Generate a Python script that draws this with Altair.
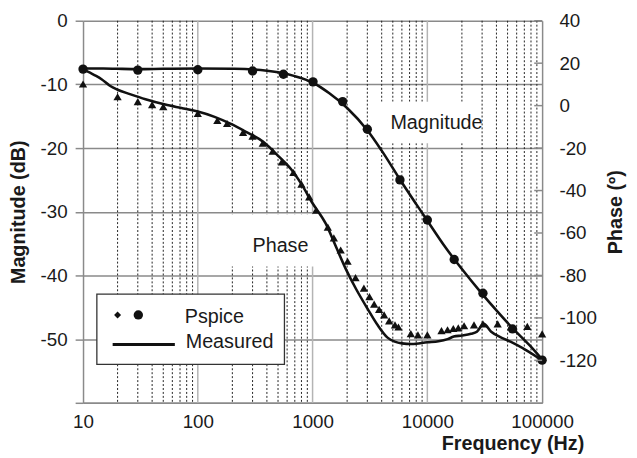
import altair as alt
import pandas as pd

# ---------------- data ----------------
mag_meas_f = [10, 15, 20, 30, 50, 100, 200, 300, 500, 700, 1000, 1400, 2000, 3000, 4000,
              6000, 8000, 10000, 14000, 20000, 30000, 40000, 56000, 78000, 100000]
mag_meas_db = [-7.5, -7.5, -7.55, -7.6, -7.55, -7.5, -7.55, -7.65, -8.1, -8.7, -9.7, -11.4,
               -13.7, -17.2, -20.4, -25.4, -28.8, -31.4, -35.3, -39.0, -42.9, -45.5, -48.4,
               -51.0, -53.2]

mag_ps_f = [10, 30, 100, 300, 557, 1009, 1828, 3000, 5770, 10000, 17140, 30500, 55200, 100000]
mag_ps_db = [-7.6, -7.75, -7.7, -7.9, -8.4, -9.6, -12.7, -17.05, -25.0, -31.3, -37.5, -42.8,
             -48.4, -53.3]

ph_meas_f = [10, 11, 12, 13, 14.6, 17, 20, 26, 35, 52, 75, 100, 140, 190, 260, 376, 515, 650,
             800, 1000, 1300, 1600, 1950, 2400, 3000, 3700, 4500, 5200, 6000, 7300, 10000,
             12500, 15000, 17000, 20000, 24000, 27000, 31000, 36000, 45000, 53000, 73000, 100000]
ph_meas = [17, 16, 15, 14, 12.3, 9.5, 7.5, 5.3, 3, 0.5, -1.3, -2.8, -5.3, -8.4, -12.2, -17.2,
           -24.3, -30, -37, -46, -55.5, -66.5, -77, -86.5, -95.5, -103.5, -109.3, -111.2, -112,
           -112.3, -111.5, -111, -110, -108.8, -108.3, -107.5, -106.5, -102.8, -106.5, -109.5,
           -111.2, -115.3, -120]

ph_ps_f = [10, 20, 30, 40, 50, 100, 148, 180, 248, 300, 368, 449, 540, 680, 800, 935, 1073,
           1358, 1532, 1757, 2018, 2366, 2800, 3130, 3440, 3800, 4200, 4650, 5224, 5600, 7180,
           8280, 10000, 13280, 15000, 16830, 18600, 20900, 25500, 30500, 41000, 74300, 100000]
ph_ps = [10.2, 4.2, 1.9, 0.5, -0.5, -3.7, -7, -8.4, -12.6, -14.4, -17.7, -21.4, -26.5, -31.5,
         -37, -43, -49.3, -57.2, -62.3, -68, -73.3, -81, -86, -90, -93.5, -96, -98.6, -101.4,
         -103.3, -104.3, -107.4, -108, -108, -106, -105.6, -105, -104.7, -103.7, -103.3, -102.8,
         -102.8, -104, -107.5]

x_ticks = [10, 100, 1000, 10000, 100000]
major_grid = [100, 1000, 10000]
minor_grid = [m * d for d in (10, 100, 1000, 10000) for m in range(2, 10)]
mag_ticks = [0, -10, -20, -30, -40, -50, -60]
ph_ticks = [40, 20, 0, -20, -40, -60, -80, -100, -120]

# ---------------- styling ----------------
FONT = "Liberation Sans"
GRAY = "#8a8a8a"
W, H = 465, 387

xscale = alt.Scale(type="log", domain=[10, 100000], nice=False)
mag_scale = alt.Scale(domain=[-60, 0], nice=False, zero=False)
ph_scale = alt.Scale(domain=[-140, 40], nice=False, zero=False)

xaxis = alt.Axis(values=x_ticks, format="d", grid=False, ticks=False, domainColor=GRAY,
                 domainWidth=1.5, labelFontSize=19, labelPadding=10, labelFlush=False,
                 labelColor="#1a1a1a", title="Frequency (Hz)", titleFontSize=20,
                 titleFontWeight="bold", titleX=435, titleY=47, titleAlign="center",
                 titleBaseline="alphabetic", titleColor="#1a1a1a")

mag_axis = alt.Axis(values=mag_ticks, orient="left", grid=True, gridColor=GRAY, gridWidth=1.5,
                    domainColor=GRAY, domainWidth=1.5, tickColor=GRAY, tickWidth=1.5,
                    tickSize=8, labelPadding=8, labelFontSize=19, labelFlush=False,
                    labelColor="#1a1a1a",
                    labelExpr="datum.value == -60 ? '' : '' + datum.value",
                    title="Magnitude (dB)", titleFontSize=20, titleFontWeight="bold",
                    titleAngle=-90, titleX=-65, titleY=H / 2, titleAlign="center",
                    titleBaseline="middle", titleColor="#1a1a1a")

ph_axis = alt.Axis(values=ph_ticks, orient="right", grid=False, ticks=False, tickSize=0,
                   domainColor=GRAY, domainWidth=1.5, labelPadding=17, labelFontSize=19,
                   labelFlush=False, labelColor="#1a1a1a", labelAlign="left",
                   labelExpr="'' + datum.value",
                   title="Phase (º)", titleFontSize=20, titleFontWeight="bold",
                   titleAngle=-90, titleX=74, titleY=H / 2, titleAlign="center",
                   titleBaseline="middle", titleColor="#1a1a1a")

# ---------------- layers ----------------
grid_minor = alt.Chart(pd.DataFrame({"f": minor_grid})).mark_rule(
    color="#222222", strokeWidth=1, strokeDash=[2, 2]
).encode(x=alt.X("f:Q", scale=xscale, axis=xaxis))

grid_major = alt.Chart(pd.DataFrame({"f": major_grid})).mark_rule(
    color="#b4b4b4", strokeWidth=1.5
).encode(x=alt.X("f:Q", scale=xscale, axis=xaxis))

base = alt.Chart(pd.DataFrame({"a": [0]}))

def white_box(x1, x2, y1, y2, stroke=None):
    kw = dict(fill="white")
    if stroke:
        kw.update(stroke=stroke, strokeWidth=1.3)
    return base.mark_rect(**kw).encode(
        x=alt.value(x1), x2=alt.value(x2), y=alt.value(y1), y2=alt.value(y2))

def label(txt, x, y, align="center"):
    return base.mark_text(text=txt, font=FONT, fontSize=20, color="#1a1a1a", align=align,
                          baseline="middle").encode(x=alt.value(x), y=alt.value(y))

mag_box = white_box(296, 403, 82, 124)
ph_box = white_box(142, 240, 196, 249)
mag_label = label("Magnitude", 358, 104)
ph_label = label("Phase", 200, 228)

mag_df = pd.DataFrame({"f": mag_meas_f, "db": mag_meas_db})
magps_df = pd.DataFrame({"f": mag_ps_f, "db": mag_ps_db})
ph_df = pd.DataFrame({"f": ph_meas_f, "ph": ph_meas})
phps_df = pd.DataFrame({"f": ph_ps_f, "ph": ph_ps})
phtick_df = pd.DataFrame({"ph": ph_ticks})

mag_line = alt.Chart(mag_df).mark_line(color="#111111", strokeWidth=2.6,
                                       interpolate="monotone").encode(
    x=alt.X("f:Q", scale=xscale, axis=xaxis),
    y=alt.Y("db:Q", scale=mag_scale, axis=mag_axis))
mag_pts = alt.Chart(magps_df).mark_circle(color="#111111", size=90, opacity=1).encode(
    x=alt.X("f:Q", scale=xscale, axis=xaxis),
    y=alt.Y("db:Q", scale=mag_scale, axis=mag_axis))
mag_layer = alt.layer(mag_line, mag_pts)

ph_line = alt.Chart(ph_df).mark_line(color="#111111", strokeWidth=2.6,
                                     interpolate="monotone").encode(
    x=alt.X("f:Q", scale=xscale, axis=xaxis),
    y=alt.Y("ph:Q", scale=ph_scale, axis=ph_axis))
ph_pts = alt.Chart(phps_df).mark_point(shape="triangle-up", filled=True, color="#111111",
                                       size=70, opacity=1).encode(
    x=alt.X("f:Q", scale=xscale, axis=xaxis),
    y=alt.Y("ph:Q", scale=ph_scale, axis=ph_axis))
ph_tick = alt.Chart(phtick_df).mark_rule(color=GRAY, strokeWidth=1.5).encode(
    x=alt.value(W - 8), x2=alt.value(W),
    y=alt.Y("ph:Q", scale=ph_scale, axis=ph_axis))
ph_layer = alt.layer(ph_line, ph_pts, ph_tick)

# legend (drawn as annotation)
leg_box = white_box(14, 204, 277, 348, stroke="#333333")
leg_diamond = base.mark_point(shape="diamond", filled=True, color="#111111", size=50,
                              opacity=1).encode(x=alt.value(35), y=alt.value(298))
leg_circle = base.mark_circle(color="#111111", size=90, opacity=1).encode(
    x=alt.value(56), y=alt.value(298))
leg_line = base.mark_rule(color="#111111", strokeWidth=3).encode(
    x=alt.value(30), x2=alt.value(93), y=alt.value(328))
leg_t1 = label("Pspice", 103, 300, align="left")
leg_t2 = label("Measured", 104, 325, align="left")

chart = alt.layer(
    grid_minor, grid_major, mag_box, ph_box, mag_label, ph_label,
    mag_layer, ph_layer,
    leg_box, leg_diamond, leg_circle, leg_line, leg_t1, leg_t2
).resolve_scale(y="independent").properties(
    width=W, height=H,
    autosize=alt.AutoSizeParams(type="none"),
    padding={"left": 76, "top": 10, "right": 88, "bottom": 52},
    background="white",
).configure(font=FONT).configure_view(stroke=None)

chart.save("out.html", embed_options={"renderer": "svg", "actions": False})
